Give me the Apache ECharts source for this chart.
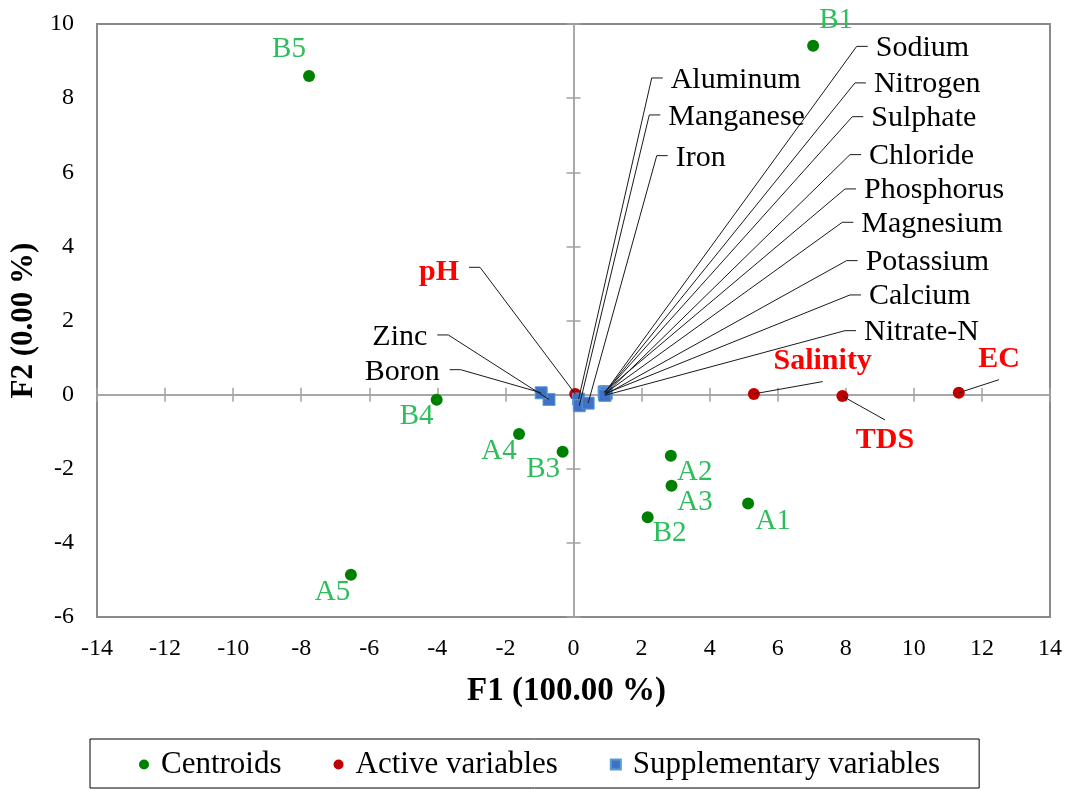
<!DOCTYPE html>
<html>
<head>
<meta charset="utf-8">
<script src="https://cdn.jsdelivr.net/npm/echarts@6/dist/echarts.min.js"></script>
<style>html,body{margin:0;padding:0;background:#fff}#c{width:1067px;height:789px}</style>
</head>
<body>
<div id="c"></div>
<script>
// ---------------- data ----------------
const centroidNames = ['A1', 'A2', 'A3', 'A4', 'A5', 'B1', 'B2', 'B3', 'B4', 'B5'];
const centroidF1 = [5.13, 2.86, 2.88, -1.60, -6.54, 7.04, 2.18, -0.32, -4.02, -7.77];
const centroidF2 = [-2.94, -1.65, -2.46, -1.06, -4.86, 9.41, -3.31, -1.54, -0.14, 8.60];

const activeNames = ['pH', 'Salinity', 'TDS', 'EC'];
const activeF1 = [0.05, 5.30, 7.90, 11.32];
const activeF2 = [0.02, 0.02, -0.04, 0.05];

const suppNames = ['Sodium', 'Nitrogen', 'Sulphate', 'Chloride', 'Phosphorus', 'Magnesium', 'Potassium',
  'Calcium', 'Nitrate-N', 'Aluminum', 'Manganese', 'Iron', 'Zinc', 'Boron'];
const suppF1 = [0.94, 0.93, 0.92, 0.95, 0.90, 0.91, 0.93, 0.96, 0.92, 0.15, 0.17, 0.43, -0.72, -0.95];
const suppF2 = [0.08, 0.06, 0.05, 0.03, 0.07, 0.02, 0.00, 0.04, -0.02, -0.12, -0.30, -0.23, -0.13, 0.05];

const xTicks = { min: -14, max: 14, step: 2 };
const yTicks = { min: -6, max: 10, step: 2 };

// ---------------- layout (pixels) ----------------
const FONT = "'Liberation Serif', 'Times New Roman', serif";
const centroidLabelOffset = {
  A1: [25, 18], A2: [24, 16.5], A3: [23.5, 16.5], A4: [-20, 17.5], A5: [-18.5, 17.5],
  B1: [23, -25], B2: [22, 16.5], B3: [-19.5, 18], B4: [-20, 16.5], B5: [-20, -26.5]
};
const leaderLayout = {
  'Sodium': { dx: 251.2, dy: -345.3, side: 'right' },
  'Nitrogen': { dx: 249.8, dy: -309.5, side: 'right' },
  'Sulphate': { dx: 247.5, dy: -276.1, side: 'right' },
  'Chloride': { dx: 244.2, dy: -238.9, side: 'right' },
  'Phosphorus': { dx: 240.9, dy: -203.1, side: 'right' },
  'Magnesium': { dx: 237.8, dy: -171.6, side: 'right' },
  'Potassium': { dx: 241.5, dy: -134, side: 'right' },
  'Calcium': { dx: 243.8, dy: -98.2, side: 'right' },
  'Nitrate-N': { dx: 240.2, dy: -64.7, side: 'right' },
  'Aluminum': { dx: 73.1, dy: -321.1, side: 'right', ty: 2.5 },
  'Manganese': { dx: 70, dy: -290.8, side: 'right', ty: 2.5 },
  'Iron': { dx: 68.6, dy: -247.5, side: 'right', ty: 2 },
  'Zinc': { dx: -100.7, dy: -64.5, side: 'left', ty: 2.5 },
  'Boron': { dx: -80.5, dy: -23.1, side: 'left', ty: 2.5 },
  'pH': { dx: -95.2, dy: -126.6, side: 'left', ty: 5 },
  'Salinity': { dx: 68.8, dy: -12.3, side: 'top' },
  'TDS': { dx: 42.6, dy: 23.8, side: 'bottom' },
  'EC': { dx: 40.2, dy: -13.1, side: 'top' }
};

function leaderRenderer(names, font, color) {
  return function (params, api) {
    const i = api.value(2);
    const name = names[i];
    const L = leaderLayout[name];
    if (!L) return null;
    const p = api.coord([api.value(0), api.value(1)]);
    const e = [p[0] + L.dx, p[1] + L.dy];
    const pts = [p, e];
    let tx, ty, align;
    if (L.side === 'right') {
      pts.push([e[0] + 11, e[1]]); tx = e[0] + 19; ty = e[1] + (L.ty != null ? L.ty : 1.5); align = 'left';
    } else if (L.side === 'left') {
      pts.push([e[0] - 11, e[1]]); tx = e[0] - 21; ty = e[1] + (L.ty != null ? L.ty : 2.5); align = 'right';
    } else if (L.side === 'top') {
      tx = e[0]; ty = e[1] - 20.5; align = 'center';
    } else {
      tx = e[0]; ty = e[1] + 20.5; align = 'center';
    }
    return {
      type: 'group',
      children: [
        { type: 'polyline', shape: { points: pts }, style: { stroke: '#1a1a1a', lineWidth: 1, fill: 'none' } },
        { type: 'text', style: { text: name, x: tx, y: ty, align: align, verticalAlign: 'middle',
            textAlign: align, textVerticalAlign: 'middle', font: font, fill: color } }
      ]
    };
  };
}

const axisGray = '#a3a3a3';
const gridRect = { left: 97, right: 17, top: 24, bottom: 172 };
const squareIcon = 'path://M0,0L10,0L10,10L0,10Z';

const chart = echarts.init(document.getElementById('c'), null, { renderer: 'canvas' });
const option = {
  backgroundColor: '#ffffff',
  animation: false,
  grid: [
    Object.assign({ show: true, borderColor: '#8a8a8a', borderWidth: 2, backgroundColor: 'transparent', containLabel: false, outerBoundsMode: 'none' }, gridRect),
    Object.assign({ show: false, containLabel: false, outerBoundsMode: 'none' }, gridRect)
  ],
  xAxis: [
    { // labels at bottom
      gridIndex: 0, type: 'value', min: xTicks.min, max: xTicks.max, interval: xTicks.step, position: 'bottom',
      axisLine: { show: false, onZero: false }, axisTick: { show: false }, splitLine: { show: false },
      axisLabel: { fontSize: 24, fontFamily: FONT, color: '#000', margin: 20 },
      name: 'F1 (100.00 %)', nameLocation: 'middle', nameGap: 58,
      nameTextStyle: { fontSize: 33, fontWeight: 'bold', fontFamily: FONT, color: '#000', padding: [0, 14, 0, 0] }
    },
    { // zero line, ticks upward
      gridIndex: 0, type: 'value', min: xTicks.min, max: xTicks.max, interval: xTicks.step, position: 'top',
      axisLine: { show: true, onZero: true, lineStyle: { color: axisGray, width: 1.5 } },
      axisTick: { show: true, length: 7, lineStyle: { color: axisGray, width: 1.5 } },
      axisLabel: { show: false }, splitLine: { show: false }
    },
    { // zero line, ticks downward
      gridIndex: 1, type: 'value', min: xTicks.min, max: xTicks.max, interval: xTicks.step, position: 'bottom',
      axisLine: { show: true, onZero: true, lineStyle: { color: axisGray, width: 1.5 } },
      axisTick: { show: true, length: 7, lineStyle: { color: axisGray, width: 1.5 } },
      axisLabel: { show: false }, splitLine: { show: false }
    }
  ],
  yAxis: [
    {
      gridIndex: 0, type: 'value', min: yTicks.min, max: yTicks.max, interval: yTicks.step, position: 'left',
      axisLine: { show: false, onZero: false }, axisTick: { show: false }, splitLine: { show: false },
      axisLabel: { fontSize: 24, fontFamily: FONT, color: '#000', margin: 23 },
      name: 'F2 (0.00 %)', nameLocation: 'middle', nameGap: 49, nameRotate: 90,
      nameTextStyle: { fontSize: 31, fontWeight: 'bold', fontFamily: FONT, color: '#000' }
    },
    {
      gridIndex: 0, type: 'value', min: yTicks.min, max: yTicks.max, interval: yTicks.step, position: 'right',
      axisLine: { show: true, onZero: true, lineStyle: { color: axisGray, width: 1.5 } },
      axisTick: { show: true, length: 7, lineStyle: { color: axisGray, width: 1.5 } },
      axisLabel: { show: false }, splitLine: { show: false }
    },
    {
      gridIndex: 1, type: 'value', min: yTicks.min, max: yTicks.max, interval: yTicks.step, position: 'left',
      axisLine: { show: true, onZero: true, lineStyle: { color: axisGray, width: 1.5 } },
      axisTick: { show: true, length: 7, lineStyle: { color: axisGray, width: 1.5 } },
      axisLabel: { show: false }, splitLine: { show: false }
    }
  ],
  legend: {
    left: 90, top: 739, orient: 'horizontal',
    itemWidth: 24, itemHeight: 10, itemGap: 52, symbolKeepAspect: true,
    padding: [10, 39, 8, 49],
    borderColor: '#000', borderWidth: 1, backgroundColor: '#fff',
    textStyle: { fontSize: 31, fontFamily: FONT, color: '#000' },
    data: [
      { name: 'Centroids', icon: 'circle' },
      { name: 'Active variables', icon: 'circle' },
      { name: 'Supplementary variables', icon: squareIcon }
    ]
  },
  series: [
    {
      name: 'Centroids', type: 'scatter', xAxisIndex: 0, yAxisIndex: 0, z: 3,
      symbol: 'circle', symbolSize: 12, itemStyle: { color: '#008000', opacity: 1 },
      label: { show: true, position: 'inside', formatter: '{b}', color: '#2DBE5C', fontSize: 29, fontFamily: FONT },
      data: centroidNames.map((n, i) => ({ name: n, value: [centroidF1[i], centroidF2[i]],
        label: { offset: centroidLabelOffset[n] } }))
    },
    {
      name: 'Active variables', type: 'scatter', xAxisIndex: 0, yAxisIndex: 0, z: 3,
      symbol: 'circle', symbolSize: 12, itemStyle: { color: '#C00000', opacity: 1 },
      data: activeNames.map((n, i) => ({ name: n, value: [activeF1[i], activeF2[i]] }))
    },
    {
      name: 'Supplementary variables', type: 'scatter', xAxisIndex: 0, yAxisIndex: 0, z: 4,
      symbol: 'rect', symbolSize: 12,
      itemStyle: { color: '#3F72C6', borderColor: '#5B9BD5', borderWidth: 1, opacity: 1 },
      data: suppNames.map((n, i) => ({ name: n, value: [suppF1[i], suppF2[i]] }))
    },
    {
      name: 'suppLeaders', type: 'custom', xAxisIndex: 0, yAxisIndex: 0, z: 6, silent: true,
      encode: { x: 0, y: 1 },
      data: suppNames.map((n, i) => [suppF1[i], suppF2[i], i]),
      renderItem: leaderRenderer(suppNames, "30px 'Liberation Serif', 'Times New Roman', serif", '#000')
    },
    {
      name: 'activeLeaders', type: 'custom', xAxisIndex: 0, yAxisIndex: 0, z: 6, silent: true,
      encode: { x: 0, y: 1 },
      data: activeNames.map((n, i) => [activeF1[i], activeF2[i], i]),
      renderItem: leaderRenderer(activeNames, "bold 30px 'Liberation Serif', 'Times New Roman', serif", '#FF0000')
    }
  ]
};
chart.setOption(option);
</script>
</body>
</html>
